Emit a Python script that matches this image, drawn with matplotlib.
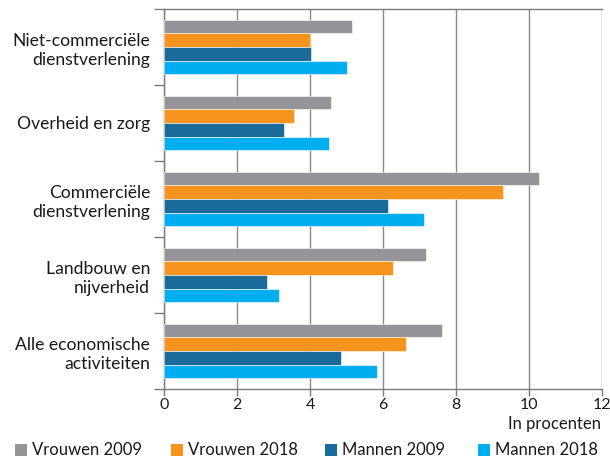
import matplotlib
matplotlib.use("Agg")
import matplotlib.pyplot as plt
import numpy as np
from matplotlib.patches import Rectangle

categories = ["Niet-commerciële\ndienstverlening", "Overheid en zorg",
              "Commerciële\ndienstverlening", "Landbouw en\nnijverheid",
              "Alle economische\nactiviteiten"]
series_names = ["Vrouwen 2009", "Vrouwen 2018", "Mannen 2009", "Mannen 2018"]
vrouwen_2009 = [5.15, 4.57, 10.27, 7.17, 7.63]
vrouwen_2018 = [4.0, 3.57, 9.3, 6.27, 6.64]
mannen_2009 = [4.03, 3.30, 6.13, 2.81, 4.84]
mannen_2018 = [5.0, 4.52, 7.13, 3.16, 5.83]
x_ticks = [0, 2, 4, 6, 8, 10, 12]
x_label = "In procenten"

colors = ["#939598", "#F7941D", "#1B6B9A", "#00AEEF"]
plt.rcParams['font.family'] = ['Lato', 'DejaVu Sans']
W, H = 610, 457
txt = "#1a1a1a"

fig = plt.figure(figsize=(W/100, H/100), dpi=100)
ax = fig.add_axes([164/W, 1-389/H, (602-164)/W, (389-9)/H])

values = [vrouwen_2009, vrouwen_2018, mannen_2009, mannen_2018]
n = len(categories)
centers = np.arange(n) + 0.5
h = 0.178
for i, (vals, c) in enumerate(zip(values, colors)):
    ax.barh(centers + (i - 1.5) * h, vals, height=h, color=c,
            edgecolor="white", linewidth=0.4, zorder=3)

ax.set_ylim(n, 0)
ax.set_xlim(0, 12)
ax.set_yticks(centers)
ax.set_yticklabels(categories, fontsize=12.6, color=txt, multialignment="right",
                   linespacing=1.25)
ax.tick_params(axis="y", which="major", length=0, pad=10)
ax.set_yticks(np.arange(n + 1), minor=True)
ax.tick_params(axis="y", which="minor", length=7, width=1.0, color="#7a7a7a", direction="out")
ax.set_xticks(x_ticks)
ax.set_xticklabels([str(t) for t in x_ticks], fontsize=11.5, color=txt)
ax.tick_params(axis="x", length=5, width=1.0, color="#7a7a7a", pad=1.5)

ax.grid(axis="x", color="#8a8a8a", linewidth=1.0, zorder=0)
for s in ["left", "bottom", "top"]:
    ax.spines[s].set_color("#7a7a7a")
    ax.spines[s].set_linewidth(1.0)
ax.spines["right"].set_visible(False)

fig.text(601/W, 1-424/H, x_label, ha="right", va="center", fontsize=12, color=txt)

# legend entries
sq_x = [15, 171, 325, 478]
ly = 450
for x0, c, name in zip(sq_x, colors, series_names):
    fig.patches.append(Rectangle((x0/W, 1-(ly+6)/H), 12/W, 12/H, transform=fig.transFigure,
                                 facecolor=c, edgecolor="none"))
    fig.text((x0+17)/W, 1-ly/H, name, ha="left", va="center", fontsize=12, color=txt)

fig.savefig("out.png", dpi=100)
